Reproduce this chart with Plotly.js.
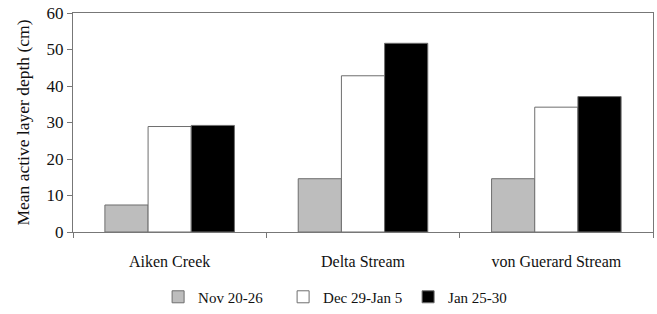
<!DOCTYPE html>
<html>
<head>
<meta charset="utf-8">
<script src="https://cdn.plot.ly/plotly-3.0.1.min.js"></script>
<style>html,body{margin:0;padding:0;background:#fff;}#chart{width:657px;height:314px;}</style>
</head>
<body>
<div id="chart"></div>
<script>
var categories = ["Aiken Creek", "Delta Stream", "von Guerard Stream"];
var seriesNames = ["Nov 20-26", "Dec 29-Jan 5", "Jan 25-30"];
var nov = [7.4, 14.6, 14.6];
var dec = [28.9, 42.8, 34.2];
var jan = [29.2, 51.7, 37.1];
var yTicks = [0, 10, 20, 30, 40, 50, 60];

var colors = ["#bdbdbd", "#ffffff", "#000000"];
var vals = [nov, dec, jan];
var traces = vals.map(function (v, i) {
  return {
    type: "bar",
    name: seriesNames[i],
    x: categories,
    y: v,
    marker: { color: colors[i], line: { color: "#6e6e6e", width: 1 } },
    hoverinfo: "skip"
  };
});

var fam = "Liberation Serif, Times New Roman, serif";
var font = { family: fam, color: "#111", size: 16 };

var layout = {
  width: 657,
  height: 314,
  margin: { l: 73, r: 4, t: 13, b: 82 },
  paper_bgcolor: "#fff",
  plot_bgcolor: "#fff",
  font: font,
  barmode: "group",
  bargap: 0.33,
  bargroupgap: 0,
  showlegend: true,
  legend: {
    orientation: "h",
    xref: "paper",
    x: 0.47,
    xanchor: "center",
    yref: "container",
    y: 0.054,
    yanchor: "middle",
    font: { family: fam, color: "#111", size: 15 },
    itemwidth: 30,
    entrywidth: 80,
    traceorder: "normal"
  },
  xaxis: {
    type: "category",
    tickson: "boundaries",
    ticks: "outside",
    ticklen: 5,
    tickcolor: "#777",
    showline: true,
    linecolor: "#777",
    linewidth: 1,
    mirror: true,
    showgrid: false,
    automargin: false,
    tickfont: font,
    ticklabelstandoff: 15,
    fixedrange: true
  },
  yaxis: {
    range: [0, 60],
    tickvals: yTicks,
    ticktext: yTicks.map(String),
    ticks: "outside",
    ticklen: 5,
    tickcolor: "#777",
    showline: true,
    linecolor: "#777",
    linewidth: 1,
    mirror: true,
    showgrid: false,
    zeroline: false,
    automargin: false,
    tickfont: { family: fam, color: "#111", size: 17 },
    title: { text: "Mean active layer depth (cm)", font: { family: fam, color: "#111", size: 17.5 }, standoff: 12 },
    fixedrange: true
  }
};

Plotly.newPlot("chart", traces, layout, { displayModeBar: false, staticPlot: true });
</script>
</body>
</html>
